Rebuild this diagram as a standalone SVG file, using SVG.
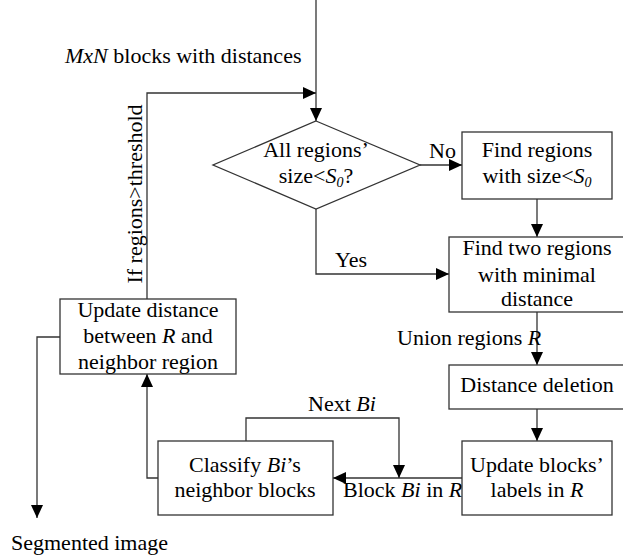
<svg xmlns="http://www.w3.org/2000/svg" width="623" height="555" viewBox="0 0 623 555">
  <style>
    text { font-family: "Liberation Serif", "Times New Roman", serif; font-size: 22px; fill: #000; }
    .c { text-anchor: middle; }
    .i { font-style: italic; }
    .box { fill: #fff; stroke: #333; stroke-width: 1.3; }
    .ln { fill: none; stroke: #333; stroke-width: 1.3; }
  </style>
  <defs>
    <marker id="ah" markerUnits="userSpaceOnUse" markerWidth="14" markerHeight="12" refX="13" refY="6" orient="auto">
      <path d="M0,0 L13,6 L0,12 Z" fill="#000"/>
    </marker>
  </defs>

  <rect width="623" height="555" fill="#fff"/>

  <!-- connectors -->
  <g id="connectors">
    <path class="ln" d="M316,0 V121" marker-end="url(#ah)"/>
    <path class="ln" d="M147,299 V93 H316" marker-end="url(#ah)"/>
    <path class="ln" d="M420,165 H462" marker-end="url(#ah)"/>
    <path class="ln" d="M537,199 V237" marker-end="url(#ah)"/>
    <path class="ln" d="M316,209 V274 H449" marker-end="url(#ah)"/>
    <path class="ln" d="M537,312 V365" marker-end="url(#ah)"/>
    <path class="ln" d="M537,409 V441" marker-end="url(#ah)"/>
    <path class="ln" d="M462,478 H333" marker-end="url(#ah)"/>
    <path class="ln" d="M246,441 V418 H399 V478" marker-end="url(#ah)"/>
    <path class="ln" d="M158,478 H147 V374" marker-end="url(#ah)"/>
    <path class="ln" d="M60,337 H37 V518" marker-end="url(#ah)"/>

    <text x="65" y="63"><tspan class="i">MxN</tspan> blocks with distances</text>
    <text transform="translate(142,194) rotate(-90)" class="c">If regions&gt;threshold</text>
    <text x="429" y="158">No</text>
    <text x="335" y="267">Yes</text>
    <text x="397" y="345">Union regions <tspan class="i">R</tspan></text>
    <text x="308" y="411">Next <tspan class="i">Bi</tspan></text>
    <text x="343" y="497">Block <tspan class="i">Bi</tspan> in <tspan class="i">R</tspan></text>
    <text x="11" y="550">Segmented image</text>
  </g>

  <g id="decision">
    <polygon class="box" points="316,121 420,165 316,209 213,165"/>
    <text class="c" x="316" y="157">All regions’</text>
    <text class="c" x="316" y="183">size&lt;<tspan class="i">S</tspan><tspan class="i" font-size="14" dy="4">0</tspan><tspan dy="-4">?</tspan></text>
  </g>

  <g id="find-small">
    <rect class="box" x="462" y="132" width="150" height="67"/>
    <text class="c" x="537" y="157">Find regions</text>
    <text class="c" x="537" y="183">with size&lt;<tspan class="i">S</tspan><tspan class="i" font-size="14" dy="4">0</tspan></text>
  </g>

  <g id="find-two">
    <rect class="box" x="449" y="237" width="176" height="75"/>
    <text class="c" x="537" y="255">Find two regions</text>
    <text class="c" x="537" y="282">with minimal</text>
    <text class="c" x="537" y="306">distance</text>
  </g>

  <g id="distance-deletion">
    <rect class="box" x="449" y="365" width="176" height="44"/>
    <text class="c" x="537" y="392">Distance deletion</text>
  </g>

  <g id="update-labels">
    <rect class="box" x="462" y="441" width="150" height="74"/>
    <text class="c" x="537" y="472">Update blocks’</text>
    <text class="c" x="537" y="497">labels in <tspan class="i">R</tspan></text>
  </g>

  <g id="classify">
    <rect class="box" x="158" y="441" width="175" height="74"/>
    <text class="c" x="245" y="472">Classify <tspan class="i">Bi</tspan>’s</text>
    <text class="c" x="245" y="497">neighbor blocks</text>
  </g>

  <g id="update-distance">
    <rect class="box" x="60" y="299" width="176" height="75"/>
    <text class="c" x="148" y="317">Update distance</text>
    <text class="c" x="148" y="343">between <tspan class="i">R</tspan> and</text>
    <text class="c" x="148" y="369">neighbor region</text>
  </g>
</svg>
